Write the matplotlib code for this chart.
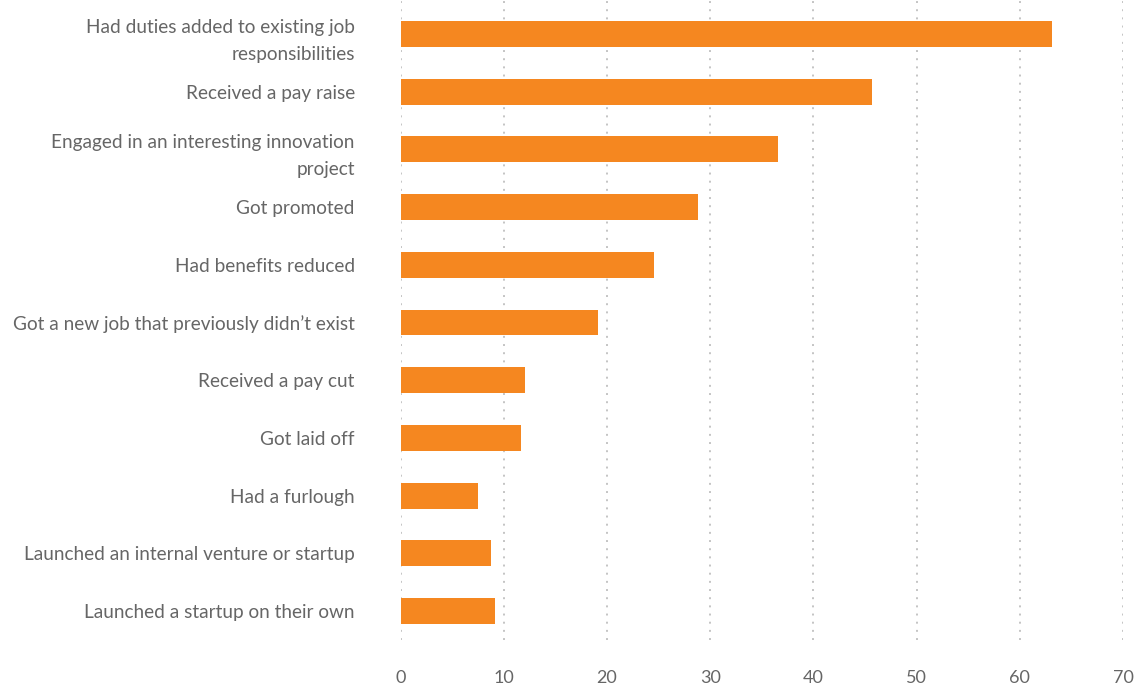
import matplotlib.pyplot as plt

# Survey responses, top to bottom
categories = [
    "Had duties added to existing job\nresponsibilities",
    "Received a pay raise",
    "Engaged in an interesting innovation\nproject",
    "Got promoted",
    "Had benefits reduced",
    "Got a new job that previously didn\u2019t exist",
    "Received a pay cut",
    "Got laid off",
    "Had a furlough",
    "Launched an internal venture or startup",
    "Launched a startup on their own",
]
values = [63.1, 45.7, 36.6, 28.8, 24.5, 19.1, 12.0, 11.7, 7.5, 8.8, 9.1]
xticks = [0, 10, 20, 30, 40, 50, 60, 70]

bar_color = "#F58720"
text_color = "#666666"
grid_color = "#c4c4c4"

plt.rcParams['font.family'] = ['Lato', 'DejaVu Sans']

fig = plt.figure(figsize=(11.36, 6.88), dpi=100)
ax = fig.add_axes([0.3527, 0.07, 0.6359, 0.93])

pos = list(range(len(categories)))
ax.barh(pos, values, height=0.45, color=bar_color, zorder=3)

ax.set_ylim(10.5, -0.59)
ax.set_xlim(0, 70)
ax.set_xticks(xticks)
ax.set_xticklabels([str(t) for t in xticks])
ax.set_yticks(pos)
ax.set_yticklabels(categories, linespacing=1.75)

ax.tick_params(axis='y', length=0, pad=33, labelsize=13.7, labelcolor=text_color)
ax.tick_params(axis='x', length=0, pad=22, labelsize=13, labelcolor=text_color)

ax.xaxis.grid(True, color=grid_color, linewidth=1.4, linestyle=(0, (1, 3.2)), zorder=0)
ax.yaxis.grid(False)
for side in ax.spines.values():
    side.set_visible(False)

fig.savefig("out.png", dpi=100)
